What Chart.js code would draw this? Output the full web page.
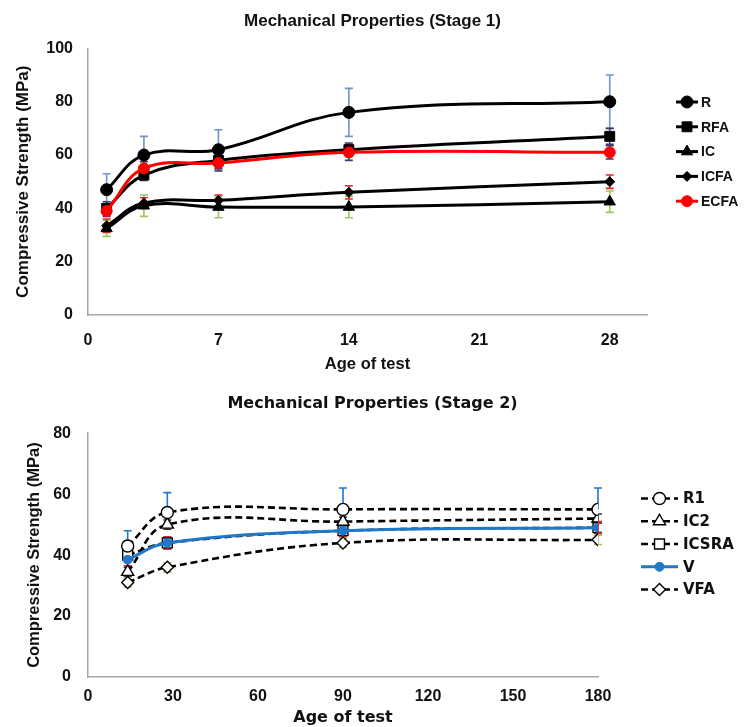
<!DOCTYPE html>
<html><head><meta charset="utf-8">
<script src="https://cdn.jsdelivr.net/npm/chart.js@4.4.0/dist/chart.umd.min.js"></script>
<style>
html,body{margin:0;padding:0;background:#fff;}
#w1{position:absolute;left:0;top:0;width:745px;height:380px;}
#w2{position:absolute;left:0;top:380px;width:745px;height:347px;}
</style></head><body>
<div id="w1"><canvas id="c1"></canvas></div>
<div id="w2"><canvas id="c2"></canvas></div>
<script>
// ---------- Stage 1 data ----------
const stage1Ages = [1, 3, 7, 14, 28];
const stage1XTicks = [0, 7, 14, 21, 28];
const stage1YTicks = [0, 20, 40, 60, 80, 100];
const R    = [47, 60, 62, 76, 80];
const R_err = [6, 7, 7.5, 9, 10];
const RFA  = [40, 52.5, 58, 62, 67];
const RFA_err = [2.5, 2, 3, 2.5, 3];
const IC   = [32.5, 41, 40.5, 40.5, 42.5];
const IC_err = [3, 4, 4, 4, 4];
const ICFA = [33.5, 42, 43, 46, 50];
const ICFA_err = [2.5, 2, 2, 2.5, 2.5];
const ECFA = [39, 55, 57, 61, 61];
const ECFA_err = [2, 2.5, 3, 3, 2.5];

// ---------- Stage 2 data ----------
const stage2Ages = [14, 28, 90, 180];
const stage2XTicks = [0, 30, 60, 90, 120, 150, 180];
const stage2YTicks = [0, 20, 40, 60, 80];
const R1    = [43, 54, 55, 55];
const R1_err = [5, 6.5, 7, 7];
const IC2   = [34.5, 50, 51, 52];
const IC2_err = [1.5, 1.5, 1.5, 1.5];
const ICSRA = [40, 44, 48, 49];
const ICSRA_err = [1.5, 2, 1.5, 1.5];
const V     = [38.5, 44, 48, 49];
const V_err = [2, 2, 2, 2];
const VFA   = [31, 36, 44, 45];
const VFA_err = [1.5, 1.5, 1.5, 1.5];

const ARIAL = "'Liberation Sans', Arial, sans-serif";
const DEJAVU = "'DejaVu Sans', sans-serif";

function pts(xs, ys) { return xs.map((x, i) => ({ x: x, y: ys[i] })); }

// ---------- plugins ----------
const errorBarPlugin = {
  id: 'errorBars',
  beforeDatasetsDraw(chart) {
    const ctx = chart.ctx, xs = chart.scales.x, ys = chart.scales.y;
    chart.data.datasets.forEach(ds => {
      if (!ds.errors) return;
      ctx.save();
      ctx.strokeStyle = ds.errorColor;
      ctx.lineWidth = 1.6;
      ds.data.forEach((p, i) => {
        const e = ds.errors[i];
        if (!e) return;
        const x = xs.getPixelForValue(p.x);
        const yT = ys.getPixelForValue(p.y + e);
        const yB = ys.getPixelForValue(p.y - (ds.errorPlusOnly ? 0 : e));
        ctx.beginPath();
        ctx.moveTo(x, yT); ctx.lineTo(x, yB);
        ctx.moveTo(x - 4, yT); ctx.lineTo(x + 4, yT);
        if (!ds.errorPlusOnly) { ctx.moveTo(x - 4, yB); ctx.lineTo(x + 4, yB); }
        ctx.stroke();
      });
      ctx.restore();
    });
  }
};

function drawMarker(ctx, style, r, x, y) {
  if (Chart.helpers && Chart.helpers.drawPoint) {
    Chart.helpers.drawPoint(ctx, { pointStyle: style, radius: r, borderWidth: ctx.lineWidth, rotation: 0 }, x, y);
    return;
  }
  ctx.beginPath();
  if (style === 'circle') ctx.arc(x, y, r, 0, Math.PI * 2);
  else if (style === 'rect') { const s = r * Math.SQRT1_2; ctx.rect(x - s, y - s, 2 * s, 2 * s); }
  else if (style === 'triangle') { ctx.moveTo(x, y - r); ctx.lineTo(x + r * 0.866, y + r / 2); ctx.lineTo(x - r * 0.866, y + r / 2); ctx.closePath(); }
  else if (style === 'rectRot') { ctx.moveTo(x, y - r); ctx.lineTo(x + r, y); ctx.lineTo(x, y + r); ctx.lineTo(x - r, y); ctx.closePath(); }
  ctx.fill(); ctx.stroke();
}

const seriesLegendPlugin = {
  id: 'seriesLegend',
  afterDraw(chart, args, o) {
    const ctx = chart.ctx;
    chart.data.datasets.forEach((ds, i) => {
      const y = o.top + i * o.step;
      ctx.save();
      ctx.strokeStyle = ds.borderColor;
      ctx.lineWidth = ds.borderWidth;
      ctx.setLineDash(ds.borderDash || []);
      ctx.beginPath(); ctx.moveTo(o.x0, y); ctx.lineTo(o.x1, y); ctx.stroke();
      ctx.setLineDash([]);
      ctx.fillStyle = ds.pointBackgroundColor;
      ctx.strokeStyle = ds.pointBorderColor;
      ctx.lineWidth = ds.pointBorderWidth;
      drawMarker(ctx, ds.pointStyle, ds.pointRadius, (o.x0 + o.x1) / 2, y);
      ctx.fillStyle = '#111';
      ctx.font = o.font;
      ctx.textBaseline = 'middle';
      ctx.textAlign = 'left';
      ctx.fillText(ds.label, o.textX, y + 1);
      ctx.restore();
    });
  }
};

function solidSeries(label, ages, vals, errs, color, style, r, errColor, order) {
  return {
    label: label, data: pts(ages, vals), errors: errs, errorColor: errColor,
    borderColor: color, borderWidth: 3, tension: 0.4, cubicInterpolationMode: 'default',
    pointStyle: style, pointRadius: r, pointBackgroundColor: color, pointBorderColor: color,
    pointBorderWidth: 1, order: order
  };
}
function dashedSeries(label, ages, vals, errs, style, r, errColor, order, plusOnly) {
  return {
    label: label, data: pts(ages, vals), errors: errs, errorColor: errColor, errorPlusOnly: !!plusOnly,
    borderColor: '#000', borderWidth: 2.6, borderDash: [7, 4], tension: 0.4,
    pointStyle: style, pointRadius: r, pointBackgroundColor: '#fff', pointBorderColor: '#000',
    pointBorderWidth: 1.4, order: order
  };
}

function axisX(min, max, ticksArr, pad, height, titleFont, titlePadBottom, tickFont) {
  return {
    type: 'linear', min: min, max: max,
    afterBuildTicks: s => { s.ticks = ticksArr.map(v => ({ value: v })); },
    afterFit: s => { s.height = height; },
    grid: { display: false, drawTicks: false },
    border: { display: true, color: '#a6a6a6', width: 1.5 },
    ticks: { color: '#111', font: tickFont, padding: pad, maxRotation: 0, autoSkip: false },
    title: { display: true, text: 'Age of test', color: '#111', font: titleFont, padding: { top: 0, bottom: titlePadBottom } }
  };
}
function axisY(min, max, ticksArr, pad, titleFont, titlePadTop, tickFont) {
  return {
    type: 'linear', min: min, max: max,
    afterBuildTicks: s => { s.ticks = ticksArr.map(v => ({ value: v })); },
    afterFit: s => { s.width = 88; },
    grid: { display: false, drawTicks: false },
    border: { display: true, color: '#a6a6a6', width: 1.5 },
    ticks: { color: '#111', font: tickFont, padding: pad },
    title: { display: true, text: 'Compressive Strength (MPa)', color: '#111', font: titleFont, padding: { top: titlePadTop, bottom: 0 } }
  };
}
// empty right-side box that reserves room for the legend
function spacerY(width) {
  return {
    type: 'linear', position: 'right', display: true, min: 0, max: 1,
    afterFit: s => { s.width = width; },
    grid: { display: false, drawTicks: false },
    border: { display: false },
    ticks: { display: false },
    title: { display: false }
  };
}

// ---------- Chart 1 ----------
new Chart(document.getElementById('c1'), {
  type: 'line',
  data: {
    datasets: [
      solidSeries('R', stage1Ages, R, R_err, '#000', 'circle', 6, '#6f95c9', 2),
      solidSeries('RFA', stage1Ages, RFA, RFA_err, '#000', 'rect', 7, '#3d3d6b', 3),
      solidSeries('IC', stage1Ages, IC, IC_err, '#000', 'triangle', 6.5, '#9bc85a', 5),
      solidSeries('ICFA', stage1Ages, ICFA, ICFA_err, '#000', 'rectRot', 5, '#e8262a', 4),
      solidSeries('ECFA', stage1Ages, ECFA, ECFA_err, '#ff0000', 'circle', 5.5, '#3d3d6b', 1)
    ]
  },
  options: {
    responsive: true, maintainAspectRatio: false, animation: false, devicePixelRatio: 1,
    layout: { padding: { left: 0, right: 0, top: 0, bottom: 0 } },
    plugins: {
      legend: { display: false }, tooltip: { enabled: false },
      title: { display: true, text: 'Mechanical Properties (Stage 1)', color: '#111',
        font: { family: ARIAL, size: 17, weight: 'bold' }, padding: { top: 11, bottom: 17 } },
      seriesLegend: { x0: 676, x1: 698, textX: 701, top: 102, step: 24.8, font: "bold 14px " + ARIAL }
    },
    scales: {
      x: axisX(0, 30, stage1XTicks, 16, 65, { family: ARIAL, size: 16.5, weight: 'bold' }, 6, { family: ARIAL, size: 16, weight: 'bold' }),
      y: axisY(0, 100, stage1YTicks, 15, { family: ARIAL, size: 17, weight: 'bold' }, 13, { family: ARIAL, size: 16, weight: 'bold' }),
      yRight: spacerY(98)
    }
  },
  plugins: [errorBarPlugin, seriesLegendPlugin]
});

// ---------- Chart 2 ----------
new Chart(document.getElementById('c2'), {
  type: 'line',
  data: {
    datasets: [
      dashedSeries('R1', stage2Ages, R1, R1_err, 'circle', 6, '#1f78c8', 2, true),
      dashedSeries('IC2', stage2Ages, IC2, IC2_err, 'triangle', 7, '#333', 3),
      dashedSeries('ICSRA', stage2Ages, ICSRA, ICSRA_err, 'rect', 7, '#555', 4),
      Object.assign(solidSeries('V', stage2Ages, V, V_err, '#1f78c8', 'circle', 4.5, '#e8262a', 0), { borderWidth: 3 }),
      dashedSeries('VFA', stage2Ages, VFA, VFA_err, 'rectRot', 6, '#9bc85a', 5)
    ]
  },
  options: {
    responsive: true, maintainAspectRatio: false, animation: false, devicePixelRatio: 1,
    layout: { padding: { left: 0, right: 0, top: 0, bottom: 0 } },
    plugins: {
      legend: { display: false }, tooltip: { enabled: false },
      title: { display: true, text: 'Mechanical Properties (Stage 2)', color: '#111',
        font: { family: DEJAVU, size: 16, weight: 'bold' }, padding: { top: 14, bottom: 20 } },
      seriesLegend: { x0: 641, x1: 678, textX: 683, top: 118.5, step: 22.75, font: "bold 15px " + DEJAVU }
    },
    scales: {
      x: axisX(0, 180, stage2XTicks, 9.5, 50, { family: DEJAVU, size: 16, weight: 'bold' }, 0, { family: ARIAL, size: 16, weight: 'bold' }),
      y: axisY(0, 80, stage2YTicks, 17, { family: ARIAL, size: 16.5, weight: 'bold' }, 25, { family: ARIAL, size: 16, weight: 'bold' }),
      yRight: spacerY(147)
    }
  },
  plugins: [errorBarPlugin, seriesLegendPlugin]
});
</script>
</body></html>
